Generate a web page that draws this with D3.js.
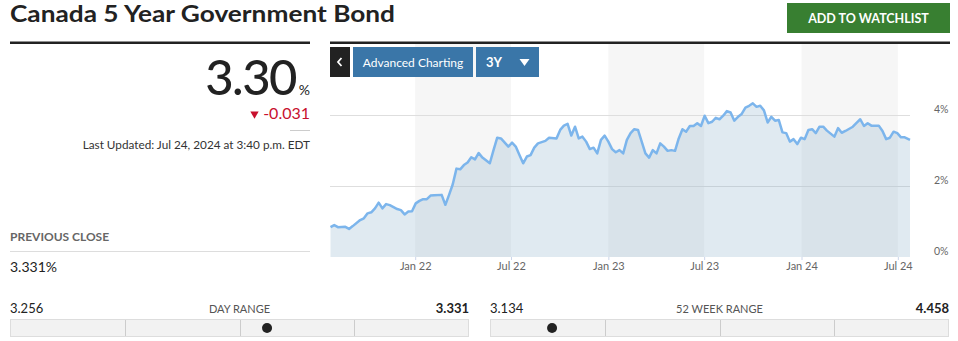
<!DOCTYPE html>
<html>
<head>
<meta charset="utf-8">
<script src="https://cdn.jsdelivr.net/npm/d3@7"></script>
<style>
  body { margin: 0; background: #fff; }
  text { font-family: Lato, "Open Sans", sans-serif; }
</style>
</head>
<body>
<script>
// Weekly closes, counted in weeks from Jul 25 2021
var weekNo = [0,1,2,4,5,6,8,9,10,11,12,13,14,15,16,18,19,20,21,22,23,24,25,26,27,28,30,31,32,33,
  34,35,36,37,38,39,40,41,43,44,45,46,48,49,50,51,52,53,54,55,56,58,59,61,62,63,64,65,66,67,
  68,69,70,71,72,73,74,75,76,77,78,79,80,81,82,83,84,85,86,87,88,89,90,91,92,93,94,95,96,97,
  98,99,100,101,102,103,104,105,106,107,108,109,110,111,112,113,114,115,116,117,118,119,120,121,122,123,
  124,125,126,127,128,129,130,131,132,133,134,136,137,138,139,141,142,143,144,145,146,148,149,150,151,152,
  153,154,155];
var yields = [0.84,0.90,0.84,0.85,0.79,0.87,1.04,1.09,1.23,1.26,1.37,1.53,1.37,1.49,1.46,1.35,1.32,1.20,1.28,1.29,
  1.51,1.58,1.63,1.63,1.73,1.74,1.75,1.47,1.75,2.05,2.49,2.47,2.59,2.66,2.81,2.75,2.93,2.80,2.64,3.01,
  3.36,3.34,3.11,3.22,3.11,2.87,2.64,2.83,2.87,3.08,3.20,3.27,3.36,3.34,3.58,3.70,3.75,3.42,3.67,3.34,
  3.39,3.25,3.04,3.08,2.92,3.30,3.42,3.25,3.04,2.95,3.01,2.92,3.30,3.49,3.60,3.58,3.25,2.92,2.80,3.01,
  2.92,3.20,3.11,2.99,3.01,2.99,3.34,3.60,3.53,3.69,3.69,3.77,3.69,3.98,3.77,3.81,3.92,3.88,3.98,4.11,
  4.07,3.84,3.95,4.03,4.21,4.26,4.33,4.23,4.26,4.13,3.79,3.95,3.84,3.86,3.51,3.49,3.25,3.32,3.18,3.36,
  3.32,3.58,3.60,3.49,3.67,3.67,3.56,3.39,3.63,3.50,3.55,3.67,3.78,3.88,3.69,3.77,3.70,3.70,3.55,3.32,
  3.36,3.53,3.49,3.37,3.37];

var firstWeek = "2021-07-25";
var rangeStart = "2021-07-24";
var lastDate = "2024-07-24";
var lastYield = 3.30;
var change = "-0.031";
var prevClose = "3.331%";
var updated = "Last Updated: Jul 24, 2024 at 3:40 p.m. EDT";

var xTicks = ["2022-01-01","2022-07-01","2023-01-01","2023-07-01","2024-01-01","2024-07-01"];
var yTicks = [0, 2, 4];
var shadedFrom = ["2022-01-01","2023-01-01","2024-01-01"];
var shadedTo = ["2022-07-01","2023-07-01","2024-07-01"];

var rangeNames = ["DAY RANGE", "52 WEEK RANGE"];
var rangeLow = [3.256, 3.134];
var rangeHigh = [3.331, 4.458];
var rangeMarker = [3.298, 3.313];

var parse = d3.timeParse("%Y-%m-%d");

function run() {
    var svg = d3.select("body").append("svg")
        .attr("width", 958)
        .attr("height", 341);

    // Title and header
    svg.append("text")
        .attr("x", 10).attr("y", 22)
        .attr("font-size", 22).attr("font-weight", 700)
        .attr("fill", "#222")
        .attr("textLength", 385).attr("lengthAdjust", "spacingAndGlyphs")
        .text("Canada 5 Year Government Bond");

    svg.append("rect").attr("x", 787).attr("y", 3).attr("width", 163).attr("height", 30)
        .attr("fill", "#387f31");
    svg.append("text")
        .attr("x", 868.5).attr("y", 22.5).attr("text-anchor", "middle")
        .attr("font-size", 12.5).attr("font-weight", 700).attr("fill", "#fff")
        .text("ADD TO WATCHLIST");

    svg.append("rect").attr("x", 10).attr("y", 41.5).attr("width", 300).attr("height", 2.5).attr("fill", "#222");
    svg.append("rect").attr("x", 330).attr("y", 41.5).attr("width", 620).attr("height", 2.5).attr("fill", "#222");

    // Quote block
    svg.append("text")
        .attr("x", 296).attr("y", 95).attr("text-anchor", "end")
        .attr("font-family", "Roboto, sans-serif")
        .attr("font-size", 49).attr("font-weight", 500).attr("fill", "#222")
        .attr("letter-spacing", -1.5)
        .text(lastYield.toFixed(2));
    svg.append("text")
        .attr("x", 310).attr("y", 95).attr("text-anchor", "end")
        .attr("font-family", "Roboto, sans-serif")
        .attr("font-size", 14).attr("fill", "#222")
        .text("%");

    svg.append("path")
        .attr("d", d3.symbol(d3.symbolTriangle, 30)())
        .attr("transform", "translate(254.5,114) rotate(180)")
        .attr("fill", "#c8102e");
    svg.append("text")
        .attr("x", 310).attr("y", 119).attr("text-anchor", "end")
        .attr("font-family", "Roboto, sans-serif")
        .attr("font-size", 16).attr("fill", "#c8102e")
        .text(change);

    svg.append("line").attr("x1", 290).attr("x2", 310).attr("y1", 130.5).attr("y2", 130.5)
        .attr("stroke", "#ccc");

    svg.append("text")
        .attr("x", 310).attr("y", 149).attr("text-anchor", "end")
        .attr("font-size", 11.75).attr("fill", "#333")
        .text(updated);

    svg.append("text")
        .attr("x", 10).attr("y", 241)
        .attr("font-size", 12).attr("font-weight", 700).attr("fill", "#666")
        .text("PREVIOUS CLOSE");
    svg.append("line").attr("x1", 10).attr("x2", 310).attr("y1", 251.5).attr("y2", 251.5)
        .attr("stroke", "#ddd");
    svg.append("text")
        .attr("x", 10).attr("y", 272)
        .attr("font-size", 14).attr("fill", "#222")
        .text(prevClose);

    drawChart(svg);

    // Range bars
    drawRange(svg, 10, 469, 0);
    drawRange(svg, 490, 949, 1);
}

function drawChart(svg) {
    var left = 330, right = 910, top = 44, bottom = 257;

    var points = weekNo.map(function(w, i) {
        return { date: d3.timeDay.offset(parse(firstWeek), w * 7), value: yields[i] };
    });
    points.push({ date: parse(lastDate), value: lastYield });

    var x = d3.scaleTime()
        .domain([parse(rangeStart), parse(lastDate)])
        .range([left, right]);
    var y = d3.scaleLinear()
        .domain([0, 6])
        .range([bottom, top]);

    // Half-year shaded bands
    svg.append("g").selectAll("rect")
        .data(shadedFrom)
        .enter().append("rect")
        .attr("x", function(d) { return x(parse(d)); })
        .attr("width", function(d, i) { return x(parse(shadedTo[i])) - x(parse(d)); })
        .attr("y", top)
        .attr("height", bottom - top)
        .attr("fill", "#f6f6f6");

    // Gridlines
    svg.append("g").selectAll("line")
        .data(yTicks.filter(function(d) { return d > 0; }))
        .enter().append("line")
        .attr("x1", left).attr("x2", right)
        .attr("y1", function(d) { return Math.round(y(d)) + 0.5; })
        .attr("y2", function(d) { return Math.round(y(d)) + 0.5; })
        .attr("stroke", "#dedede");

    var area = d3.area()
        .x(function(d) { return x(d.date); })
        .y0(y(0))
        .y1(function(d) { return y(d.value); });
    var line = d3.line()
        .x(function(d) { return x(d.date); })
        .y(function(d) { return y(d.value); });

    svg.append("path")
        .datum(points)
        .attr("d", area)
        .attr("fill", "rgba(131,171,199,0.25)");
    svg.append("path")
        .datum(points)
        .attr("d", line)
        .attr("fill", "none")
        .attr("stroke", "#7cb5ec")
        .attr("stroke-width", 2.5)
        .attr("stroke-linejoin", "round");

    // X axis
    var xAxis = svg.append("g")
        .attr("transform", "translate(0," + bottom + ")")
        .call(d3.axisBottom(x)
            .tickValues(xTicks.map(parse))
            .tickFormat(d3.timeFormat("%b %y"))
            .tickSize(3)
            .tickPadding(2));
    xAxis.select(".domain").remove();
    xAxis.selectAll("line").attr("stroke", "#ccd6eb");
    xAxis.selectAll("text")
        .attr("font-family", "Lato, sans-serif")
        .attr("font-size", 11).attr("fill", "#666");

    // Y labels on the right
    var yAxis = svg.append("g")
        .attr("transform", "translate(934,0)")
        .call(d3.axisRight(y)
            .tickValues(yTicks)
            .tickFormat(function(d) { return d + "%"; })
            .tickSize(0)
            .tickPadding(0));
    yAxis.select(".domain").remove();
    yAxis.selectAll("text")
        .attr("dy", "-0.25em")
        .attr("font-family", "Lato, sans-serif")
        .attr("font-size", 10.5).attr("fill", "#666");

    // Buttons over the chart
    svg.append("rect").attr("x", 330).attr("y", 47).attr("width", 20).attr("height", 30).attr("fill", "#222");
    svg.append("path")
        .attr("d", "M341.5,58 L338,62 L341.5,66")
        .attr("fill", "none").attr("stroke", "#fff").attr("stroke-width", 1.8);

    svg.append("rect").attr("x", 353).attr("y", 47).attr("width", 120).attr("height", 30).attr("fill", "#3a76a8");
    svg.append("text")
        .attr("x", 413).attr("y", 66.5).attr("text-anchor", "middle")
        .attr("font-size", 12).attr("fill", "#fff")
        .text("Advanced Charting");

    svg.append("rect").attr("x", 476).attr("y", 47).attr("width", 63).attr("height", 30).attr("fill", "#3a76a8");
    svg.append("text")
        .attr("x", 486).attr("y", 66.5)
        .attr("font-size", 13).attr("font-weight", 700).attr("fill", "#fff")
        .text("3Y");
    svg.append("path")
        .attr("d", "M519.5,59 L529.5,59 L524.5,66 Z")
        .attr("fill", "#fff");
}

function drawRange(svg, x0, x1, i) {
    var scale = d3.scaleLinear()
        .domain([rangeLow[i], rangeHigh[i]])
        .range([x0, x1]);

    svg.append("text")
        .attr("x", x0).attr("y", 313)
        .attr("font-size", 13).attr("fill", "#222")
        .text(rangeLow[i].toFixed(3));
    svg.append("text")
        .attr("x", (x0 + x1) / 2).attr("y", 313).attr("text-anchor", "middle")
        .attr("font-size", 11).attr("fill", "#555")
        .text(rangeNames[i]);
    svg.append("text")
        .attr("x", x1).attr("y", 313).attr("text-anchor", "end")
        .attr("font-size", 13).attr("font-weight", 700).attr("fill", "#222")
        .text(rangeHigh[i].toFixed(3));

    svg.append("rect")
        .attr("x", x0 + 0.5).attr("y", 319.5)
        .attr("width", x1 - x0 - 1).attr("height", 17)
        .attr("fill", "#f2f2f2").attr("stroke", "#ddd");

    // quarter dividers
    svg.append("g").selectAll("line")
        .data([0.25, 0.5, 0.75])
        .enter().append("line")
        .attr("x1", function(d) { return Math.round(x0 + (x1 - x0) * d) + 0.5; })
        .attr("x2", function(d) { return Math.round(x0 + (x1 - x0) * d) + 0.5; })
        .attr("y1", 320).attr("y2", 336)
        .attr("stroke", "#ccc");

    svg.append("circle")
        .attr("cx", scale(rangeMarker[i]))
        .attr("cy", 328)
        .attr("r", 5)
        .attr("fill", "#222");
}

run();
</script>
</body>
</html>
